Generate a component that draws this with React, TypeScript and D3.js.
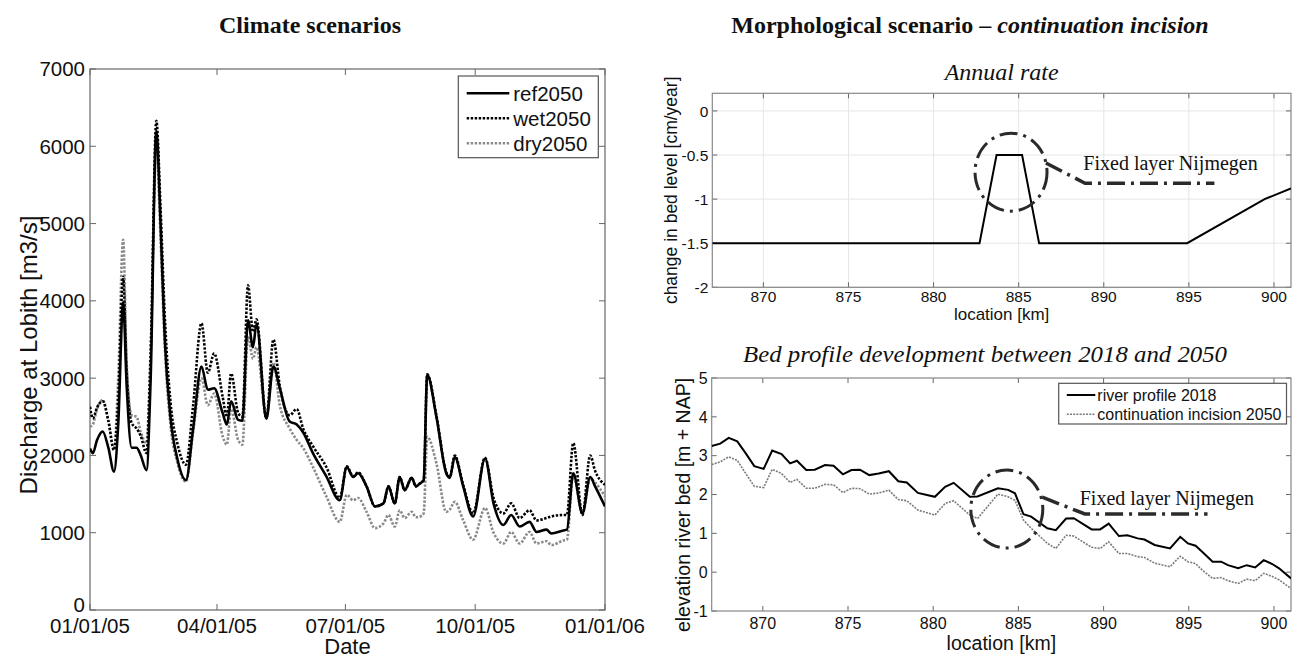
import React from 'react';
import * as d3 from 'd3';

// ---------- Left panel data (discharge at Lobith, 2005) ----------
const flowDays = [0,2,5,9,13,17,20,23.5,26,29.5,33,36,40,43,47,50,53,57,62,68,73,79,83.5,88,94,97,100,105,108,112,115.5,118,125,130,134.5,141.5,146.5,151,158,167.5,177,182,186.5,190,196,202,208,211.5,216,219.5,223,228,231,234,236.5,239,245.5,252.5,255,258.5,264.5,271.5,280,286,293,298.5,304.5,311.5,316.5,323.5,327,335.5,338,342.5,349,354.5,358,365];
const ref2050 = [2090,2030,2200,2310,2100,1790,2400,3980,2900,2100,2100,2000,1810,3000,6200,5000,3500,2500,1950,1680,2330,3150,2850,2870,2550,2400,2700,2460,2450,3750,3400,3700,2480,3150,2870,2440,2400,2300,2030,1730,1420,1850,1720,1770,1600,1340,1380,1600,1380,1720,1550,1710,1600,1640,1680,3040,2500,1770,1710,1980,1600,1210,1960,1380,1100,1230,1080,1140,1010,1040,990,1030,1040,1770,1250,1720,1600,1340];
const wet2050 = [2630,2480,2620,2700,2450,2070,2700,4310,3100,2420,2350,2250,2030,3300,6330,5200,3800,2700,2150,1880,2630,3710,3070,3320,2760,2500,3060,2550,2500,4200,3600,3760,2480,3500,2900,2520,2600,2350,2120,1850,1450,1860,1730,1780,1600,1340,1380,1600,1380,1720,1550,1710,1600,1640,1680,3050,2520,1780,1720,2000,1620,1250,1970,1450,1250,1380,1190,1290,1160,1190,1210,1230,1230,2160,1230,2000,1800,1620];
const dry2050 = [2370,2400,2600,2720,2450,2070,3000,4790,3200,2520,2500,2300,2160,3400,6000,4800,3400,2400,1900,1660,2290,3000,2650,2800,2250,2140,2600,2200,2140,3550,3250,3400,2480,3200,2650,2350,2200,2100,1850,1470,1140,1490,1420,1450,1270,1060,1120,1230,1080,1290,1190,1270,1200,1210,1250,2240,1900,1270,1300,1400,1160,910,1320,1000,860,1010,860,1010,860,890,840,900,910,1750,1250,1700,1650,1470];
const flowTicks = [0,1000,2000,3000,4000,5000,6000,7000];
const dateTicks = ['2005-01-01','2005-04-01','2005-07-01','2005-10-01','2006-01-01'];
const dateTickLabels = ['01/01/05','04/01/05','07/01/05','10/01/05','01/01/06'];
const flowSeriesNames = ['ref2050','wet2050','dry2050'];

// ---------- Top right: annual rate ----------
const rateKm = [867, 882.7, 883.7, 885.2, 886.2, 894.9, 899.45, 901];
const rateVal = [-1.5, -1.5, -0.5, -0.5, -1.5, -1.5, -1.0, -0.88];
const kmTicks = [870,875,880,885,890,895,900];
const rateTicks = [0,-0.5,-1,-1.5,-2];
const rateTickLabels = ['0','-0.5','-1','-1.5','-2'];

// ---------- Bottom right: bed profile ----------
const profileKm = [867,867.5,868,868.5,869,869.5,870.05,870.55,871.1,871.6,872,872.55,873.05,873.65,874.15,874.7,875.2,875.7,876.25,876.8,877.4,877.95,878.45,879.1,880.1,880.7,881.2,882.15,882.6,883.8,884.4,884.8,885.3,885.75,886.7,887.2,887.8,888.25,889.3,889.8,890.3,890.9,891.4,892,892.4,893,893.9,894.5,894.95,895.4,895.8,896.4,896.9,897.3,897.9,898.4,898.9,899.4,899.9,900.3,901];
const profile2018 = [3.25,3.31,3.46,3.37,3.06,2.73,2.66,3.13,3.04,2.80,2.87,2.63,2.64,2.76,2.74,2.52,2.63,2.64,2.50,2.54,2.60,2.34,2.31,2.04,1.94,2.20,2.30,1.94,1.95,2.16,2.12,2.03,1.49,1.43,1.13,1.08,1.38,1.39,1.10,1.10,1.25,0.93,0.95,0.87,0.84,0.70,0.61,0.91,0.74,0.68,0.52,0.27,0.27,0.18,0.10,0.18,0.12,0.31,0.21,0.10,-0.16];
const incision2050 = [2.77,2.84,2.97,2.88,2.54,2.21,2.18,2.65,2.54,2.31,2.39,2.16,2.16,2.26,2.25,2.05,2.16,2.15,2.01,2.04,2.11,1.87,1.84,1.60,1.47,1.77,1.84,1.47,1.38,2.01,1.94,1.85,1.34,1.13,0.74,0.61,0.95,0.93,0.64,0.61,0.78,0.48,0.48,0.40,0.38,0.23,0.14,0.41,0.27,0.22,0.05,-0.16,-0.14,-0.22,-0.29,-0.18,-0.22,-0.03,-0.11,-0.20,-0.42];
const elevTicks = [-1,0,1,2,3,4,5];
const profileNames = ['river profile 2018','continuation incision 2050'];

const SANS = '"Liberation Sans", Arial, sans-serif';
const SERIF = '"Liberation Serif", "Times New Roman", serif';
const DASHDOT = '18,6,3,6';

const utc = (s: string) => { const [y, m, d] = s.split('-').map(Number); return new Date(Date.UTC(y, m - 1, d)); };
const dayToDate = (d: number) => new Date(Date.UTC(2005, 0, 1) + d * 86400000);

export default function App() {
  // ----- Left panel -----
  const L = { x0: 90, x1: 605, y0: 69, y1: 610 };
  const xT = d3.scaleUtc().domain([utc('2005-01-01'), utc('2006-01-01')]).range([L.x0, L.x1]);
  const yQ = d3.scaleLinear().domain([0, 7000]).range([L.y1, L.y0]);
  const flowLine = (vals: number[]) =>
    d3.line<number>().x((_, i) => xT(dayToDate(flowDays[i]))).y(v => yQ(v)).curve(d3.curveMonotoneX)(vals) || '';

  // ----- Top right -----
  const T = { x0: 712.3, x1: 1291, y0: 93.3, y1: 287.3 };
  const xK1 = d3.scaleLinear().domain([867, 901]).range([T.x0, T.x1]);
  const yR = d3.scaleLinear().domain([-2, 0.2]).range([T.y1, T.y0]);
  const rateLine = d3.line<number>().x((_, i) => xK1(rateKm[i])).y(v => yR(v))(rateVal) || '';

  // ----- Bottom right -----
  const B = { x0: 711.7, x1: 1291, y0: 378, y1: 611 };
  const xK2 = d3.scaleLinear().domain([867, 901]).range([B.x0, B.x1]);
  const yE = d3.scaleLinear().domain([-1, 5]).range([B.y1, B.y0]);
  const profLine = (vals: number[]) => d3.line<number>().x((_, i) => xK2(profileKm[i])).y(v => yE(v))(vals) || '';

  const tickLen = 6;
  const axisCol = '#666';

  return (
    <svg width={1298} height={659} style={{ position: 'absolute', left: 0, top: 0, background: '#fff' }}
      xmlns="http://www.w3.org/2000/svg">
      <rect x={0} y={0} width={1298} height={659} fill="#fff" />
      <defs>
        <clipPath id="clipL"><rect x={L.x0} y={L.y0} width={L.x1 - L.x0} height={L.y1 - L.y0} /></clipPath>
        <clipPath id="clipB"><rect x={B.x0} y={B.y0} width={B.x1 - B.x0} height={B.y1 - B.y0} /></clipPath>
        <clipPath id="clipT"><rect x={T.x0} y={T.y0} width={T.x1 - T.x0} height={T.y1 - T.y0} /></clipPath>
      </defs>

      {/* ===== Titles ===== */}
      <text x={310} y={33} textAnchor="middle" fontFamily={SERIF} fontWeight="bold" fontSize={24} fill="#111">Climate scenarios</text>
      <text x={970} y={33} textAnchor="middle" fontFamily={SERIF} fontWeight="bold" fontSize={24} fill="#111">
        Morphological scenario – <tspan fontStyle="italic">continuation incision</tspan>
      </text>

      {/* ===== Left panel ===== */}
      <g>
        {flowTicks.map(t => (
          <g key={'yt' + t}>
            <line x1={L.x0} x2={L.x0 + tickLen} y1={yQ(t)} y2={yQ(t)} stroke={axisCol} />
            <line x1={L.x1} x2={L.x1 - tickLen} y1={yQ(t)} y2={yQ(t)} stroke={axisCol} />
            <text x={L.x0 - 5} y={yQ(t) - (t === 0 ? 5 : 0)} dy="0.36em" textAnchor="end" fontFamily={SANS} fontSize={20.5} fill="#111">{t}</text>
          </g>
        ))}
        {dateTicks.map((d, i) => (
          <g key={'xt' + d}>
            <line x1={xT(utc(d))} x2={xT(utc(d))} y1={L.y1} y2={L.y1 - tickLen} stroke={axisCol} />
            <line x1={xT(utc(d))} x2={xT(utc(d))} y1={L.y0} y2={L.y0 + tickLen} stroke={axisCol} />
            <text x={xT(utc(d))} y={633} textAnchor="middle" fontFamily={SANS} fontSize={20.5} fill="#111">{dateTickLabels[i]}</text>
          </g>
        ))}
        <rect x={L.x0} y={L.y0} width={L.x1 - L.x0} height={L.y1 - L.y0} fill="none" stroke={axisCol} strokeWidth={1.2} />
        <g clipPath="url(#clipL)" fill="none" strokeWidth={2.6} strokeLinejoin="round">
          <path d={flowLine(dry2050)} stroke="#8a8a8a" strokeDasharray="2.4,1.6" />
          <path d={flowLine(ref2050)} stroke="#000" />
          <path d={flowLine(wet2050)} stroke="#000" strokeDasharray="2.4,1.6" />
        </g>
        <text x={347.5} y={653.5} textAnchor="middle" fontFamily={SANS} fontSize={22} fill="#111">Date</text>
        <text transform={`translate(37,355) rotate(-90)`} textAnchor="middle" fontFamily={SANS} fontSize={24} fill="#111">Discharge at Lobith [m3/s]</text>
        {/* legend */}
        <rect x={458.3} y={76} width={140} height={81.7} fill="#fff" stroke="#555" strokeWidth={1.2} />
        {flowSeriesNames.map((n, i) => {
          const cy = 93.3 + i * 25;
          const stroke = i === 2 ? '#8a8a8a' : '#000';
          return (
            <g key={n}>
              <line x1={466.7} x2={509.3} y1={cy} y2={cy} stroke={stroke} strokeWidth={2.6} strokeDasharray={i === 0 ? undefined : '2.4,1.6'} />
              <text x={513.3} y={cy} dy="0.36em" fontFamily={SANS} fontSize={20.5} fill="#111">{n}</text>
            </g>
          );
        })}
      </g>

      {/* ===== Top right panel ===== */}
      <g>
        <text x={(T.x0 + T.x1) / 2} y={80} textAnchor="middle" fontFamily={SERIF} fontStyle="italic" fontSize={24} fill="#111">Annual rate</text>
        {kmTicks.map(k => (
          <line key={'gx' + k} x1={xK1(k)} x2={xK1(k)} y1={T.y0} y2={T.y1} stroke="#e6e6e6" />
        ))}
        {rateTicks.map(t => (
          <line key={'gy' + t} x1={T.x0} x2={T.x1} y1={yR(t)} y2={yR(t)} stroke="#e6e6e6" />
        ))}
        {kmTicks.map(k => (
          <g key={'tx' + k}>
            <line x1={xK1(k)} x2={xK1(k)} y1={T.y1} y2={T.y1 - 5} stroke={axisCol} />
            <line x1={xK1(k)} x2={xK1(k)} y1={T.y0} y2={T.y0 + 5} stroke={axisCol} />
            <text x={xK1(k)} y={302} textAnchor="middle" fontFamily={SANS} fontSize={15.5} fill="#111">{k}</text>
          </g>
        ))}
        {rateTicks.map((t, i) => (
          <g key={'ty' + t}>
            <line x1={T.x0} x2={T.x0 + 5} y1={yR(t)} y2={yR(t)} stroke={axisCol} />
            <line x1={T.x1} x2={T.x1 - 5} y1={yR(t)} y2={yR(t)} stroke={axisCol} />
            <text x={T.x0 - 4} y={yR(t)} dy="0.36em" textAnchor="end" fontFamily={SANS} fontSize={15.5} fill="#111">{rateTickLabels[i]}</text>
          </g>
        ))}
        <rect x={T.x0} y={T.y0} width={T.x1 - T.x0} height={T.y1 - T.y0} fill="none" stroke="#888" strokeWidth={1.2} />
        <path d={rateLine} fill="none" stroke="#000" strokeWidth={2} clipPath="url(#clipT)" />
        <text x={(T.x0 + T.x1) / 2} y={320} textAnchor="middle" fontFamily={SANS} fontSize={17} fill="#111">location [km]</text>
        <text transform={`translate(677,${(T.y0 + T.y1) / 2}) rotate(-90)`} textAnchor="middle" fontFamily={SANS} fontSize={17.5} fill="#111">change in bed level [cm/year]</text>
        {/* annotation */}
        <ellipse cx={xK1(884.55)} cy={yR(-0.694)} rx={36} ry={39} fill="none" stroke="#2a2a2a" strokeWidth={3} strokeDasharray={DASHDOT} />
        <path d={`M${xK1(886.6)},${yR(-0.59)} L${xK1(888.9)},${yR(-0.82)} L${xK1(896.5)},${yR(-0.82)}`} fill="none" stroke="#2a2a2a" strokeWidth={3.5} strokeDasharray={DASHDOT} />
        <text x={xK1(888.8)} y={yR(-0.67)} fontFamily={SERIF} fontSize={20} fill="#111">Fixed layer Nijmegen</text>
      </g>

      {/* ===== Bottom right panel ===== */}
      <g>
        <text x={743} y={361.7} fontFamily={SERIF} fontStyle="italic" fontSize={24} textLength={484} lengthAdjust="spacingAndGlyphs" fill="#111">Bed profile development between 2018 and 2050</text>
        {kmTicks.map(k => (
          <g key={'bx' + k}>
            <line x1={xK2(k)} x2={xK2(k)} y1={B.y1} y2={B.y1 - 5} stroke={axisCol} />
            <line x1={xK2(k)} x2={xK2(k)} y1={B.y0} y2={B.y0 + 5} stroke={axisCol} />
            <text x={xK2(k)} y={629} textAnchor="middle" fontFamily={SANS} fontSize={16} fill="#111">{k}</text>
          </g>
        ))}
        {elevTicks.map(t => (
          <g key={'by' + t}>
            <line x1={B.x0} x2={B.x0 + 5} y1={yE(t)} y2={yE(t)} stroke={axisCol} />
            <line x1={B.x1} x2={B.x1 - 5} y1={yE(t)} y2={yE(t)} stroke={axisCol} />
            <text x={B.x0 - 4} y={yE(t)} dy="0.36em" textAnchor="end" fontFamily={SANS} fontSize={16} fill="#111">{t}</text>
          </g>
        ))}
        <rect x={B.x0} y={B.y0} width={B.x1 - B.x0} height={B.y1 - B.y0} fill="none" stroke="#888" strokeWidth={1.2} />
        <g clipPath="url(#clipB)" fill="none">
          <path d={profLine(incision2050)} stroke="#7a7a7a" strokeWidth={1.6} strokeDasharray="2,1.2" />
          <path d={profLine(profile2018)} stroke="#000" strokeWidth={2} />
        </g>
        <text x={(B.x0 + B.x1) / 2} y={650} textAnchor="middle" fontFamily={SANS} fontSize={19.5} fill="#111">location [km]</text>
        <text transform={`translate(690,505) rotate(-90)`} textAnchor="middle" fontFamily={SANS} fontSize={19.5} fill="#111">elevation river bed [m + NAP]</text>
        {/* legend */}
        <rect x={1058.7} y={383.3} width={227.8} height={40.7} fill="#fff" stroke="#555" strokeWidth={1.2} />
        {profileNames.map((n, i) => {
          const cy = 395 + i * 19.3;
          return (
            <g key={n}>
              <line x1={1066.8} x2={1095.3} y1={cy} y2={cy} stroke={i === 0 ? '#000' : '#7a7a7a'} strokeWidth={i === 0 ? 2 : 1.6} strokeDasharray={i === 0 ? undefined : '2,1.2'} />
              <text x={1097.3} y={cy} dy="0.36em" fontFamily={SANS} fontSize={16} fill="#111">{n}</text>
            </g>
          );
        })}
        {/* annotation */}
        <ellipse cx={xK2(884.32)} cy={yE(1.625)} rx={36} ry={39} fill="none" stroke="#2a2a2a" strokeWidth={3} strokeDasharray={DASHDOT} />
        <path d={`M${xK2(886.4)},${yE(1.93)} L${xK2(888.9)},${yE(1.5)} L${xK2(896.1)},${yE(1.5)}`} fill="none" stroke="#2a2a2a" strokeWidth={3.5} strokeDasharray={DASHDOT} />
        <text x={xK2(888.6)} y={yE(1.73)} fontFamily={SERIF} fontSize={20} fill="#111">Fixed layer Nijmegen</text>
      </g>
    </svg>
  );
}
